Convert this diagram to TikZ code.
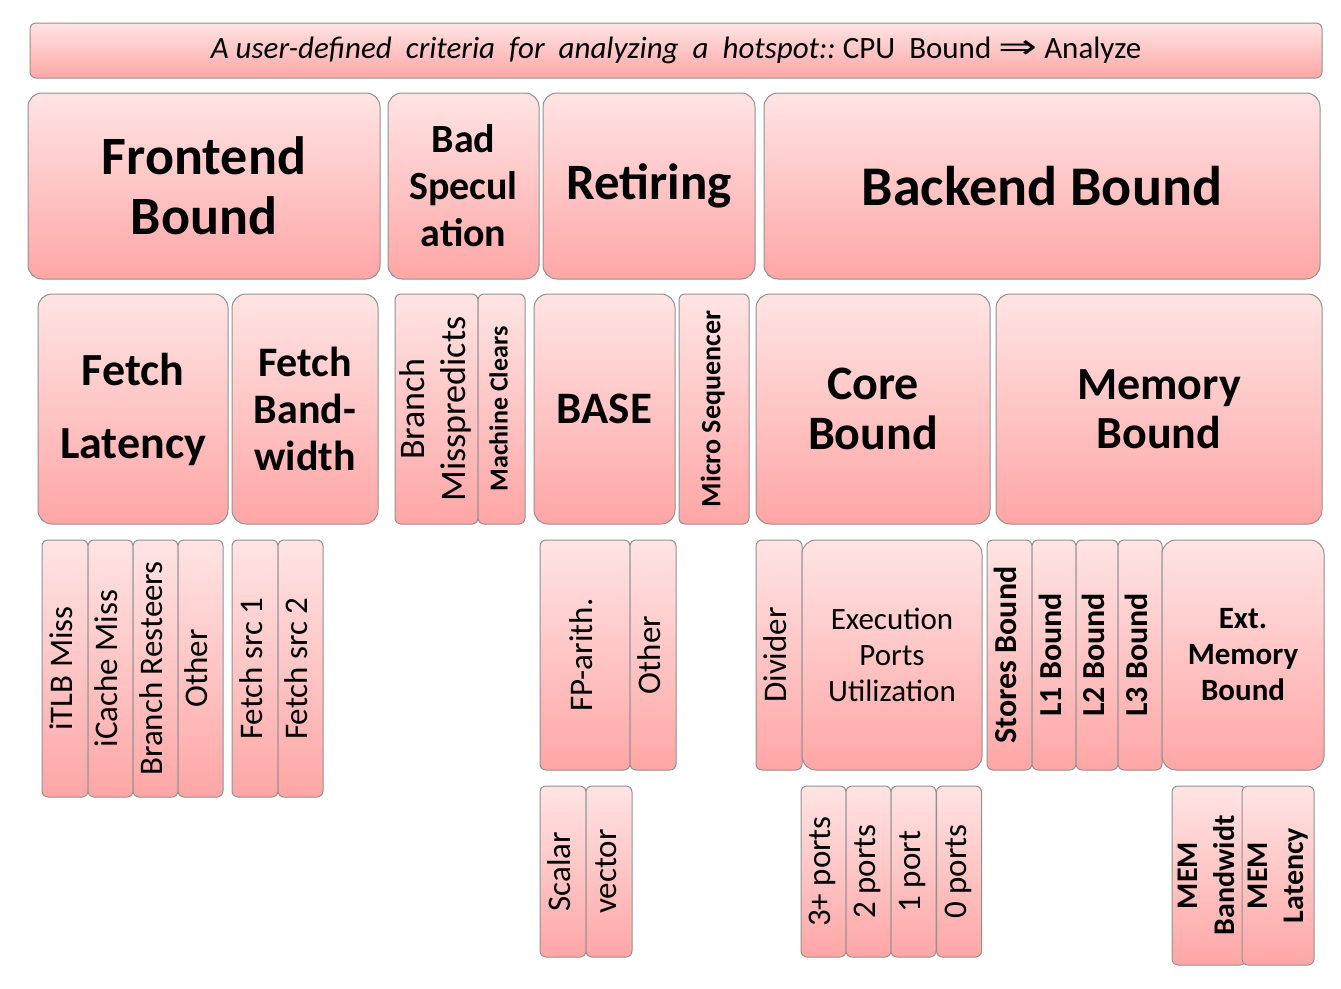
\documentclass[tikz,border=0pt]{standalone}
\usepackage{fontspec}
\setmainfont{Carlito}
\newfontfamily\arrowfont{DejaVu Sans}
\usepackage{xcolor}
\usepackage{tikz}

\definecolor{boxtop}{RGB}{255,228,228}
\definecolor{boxbot}{RGB}{255,166,166}
\definecolor{boxline}{RGB}{145,145,145}

\newcommand{\fsz}[2]{\fontsize{#1}{#2}\selectfont}
\newcommand{\vtext}[1]{\rotatebox{90}{\begin{tabular}{@{}c@{}}#1\end{tabular}}}

\tikzset{
  tbox/.style={draw=boxline, line width=1pt, top color=boxtop, bottom color=boxbot,
               inner sep=0pt, align=center, text=black},
  bigbox/.style={tbox, rounded corners=14pt},
  smallbox/.style={tbox, rounded corners=6pt},
  sz/.style 2 args={minimum width=#1pt, minimum height=#2pt}
}

\begin{document}
\begin{tikzpicture}[x=1pt, y=-1pt]
\useasboundingbox (0,0) rectangle (1341,988);

% Criteria bar
\node[smallbox, sz={1292}{55}, font=\fsz{31}{36}] (crit) at (676,50.5)
  {\textit{A user-defined\ \ criteria\ \ for\ \ analyzing\ \ a\ \ hotspot::}\ CPU\ \ Bound {\arrowfont\scalebox{1.5}[1.1]{⇒}} Analyze};

% Level 1
\node[bigbox, sz={352}{186}, font=\fsz{54}{60}\bfseries] (fe)  at (204,186)   {Frontend\\Bound};
\node[bigbox, sz={151}{186}, font=\fsz{40}{47}\bfseries] (bs)  at (463.5,186) {Bad\\Specul\\ation};
\node[bigbox, sz={212}{186}, font=\fsz{51}{56}\bfseries] (ret) at (649,186)   {Retiring};
\node[bigbox, sz={556}{186}, font=\fsz{56}{60}\bfseries] (be)  at (1042,186)  {Backend Bound};

% Level 2
\node[bigbox, sz={190}{230}, font=\fsz{46}{73}\bfseries] (fl)   at (133,409)   {Fetch\\Latency};
\node[bigbox, sz={146}{230}, font=\fsz{42}{47}\bfseries] (fb)   at (305,409)   {Fetch\\Band-\\width};
\node[smallbox, sz={83}{230}, font=\fsz{36}{41}] (bm)           at (436.5,409) {\vtext{Branch\\Misspredicts}};
\node[smallbox, sz={47}{230}, font=\fsz{26}{30}\bfseries] (mc)  at (501.5,409) {\vtext{Machine Clears}};
\node[bigbox, sz={141}{230}, font=\fsz{45}{52}\bfseries] (base) at (604.5,409) {BASE};
\node[smallbox, sz={70}{230}, font=\fsz{28}{32}\bfseries] (ms)  at (714,409)   {\vtext{Micro Sequencer}};
\node[bigbox, sz={234}{230}, font=\fsz{48}{50}\bfseries] (cb)   at (873,409)   {Core\\Bound};
\node[bigbox, sz={326}{230}, font=\fsz{46}{49}\bfseries] (mb)   at (1159,409)  {Memory\\Bound};

% Level 3
\tikzset{leaf/.style={smallbox, font=\fsz{33}{37}}}
\node[leaf, sz={46}{257}] (itlb)  at (65,668.5)    {\vtext{iTLB Miss}};
\node[leaf, sz={45}{257}] (icm)   at (110.5,668.5) {\vtext{iCache Miss}};
\node[leaf, sz={45}{257}] (bres)  at (155.5,668.5) {\vtext{Branch Resteers}};
\node[leaf, sz={45}{257}] (othfe) at (200.5,668.5) {\vtext{Other}};
\node[leaf, sz={46}{257}] (fsa)   at (255,668.5)   {\vtext{Fetch src 1}};
\node[leaf, sz={45}{257}] (fsb)   at (300.5,668.5) {\vtext{Fetch src 2}};

\node[leaf, sz={90}{230}] (fp)     at (585,655)  {\vtext{FP-arith.}};
\node[leaf, sz={46}{230}] (othret) at (653,655)  {\vtext{Other}};

\node[leaf, sz={46}{230}] (div)  at (779,655) {\vtext{Divider}};
\node[bigbox, sz={180}{230}, font=\fsz{31}{36}] (epu) at (892,655) {Execution\\Ports\\Utilization};
\tikzset{bleaf/.style={smallbox, font=\fsz{32}{36}\bfseries}}
\node[bleaf, sz={45}{230}] (stb)  at (1009.5,655) {\vtext{Stores Bound}};
\node[bleaf, sz={44}{230}] (lone) at (1054,655)   {\vtext{L1 Bound}};
\node[bleaf, sz={42}{230}] (ltwo) at (1097,655)   {\vtext{L2 Bound}};
\node[bleaf, sz={44}{230}] (lthr) at (1140,655)   {\vtext{L3 Bound}};
\node[bigbox, sz={162}{230}, font=\fsz{31}{36}\bfseries] (ext) at (1243,655) {Ext.\\Memory\\Bound};

% Level 4
\node[leaf, sz={46}{171}] (scal) at (563,871.5) {\vtext{Scalar}};
\node[leaf, sz={46}{171}] (vect) at (609,871.5) {\vtext{vector}};

\foreach \name/\x/\lbl in {pthree/823.5/3+ ports, ptwo/868.5/2 ports, pone/913.5/1 port, pzero/959/0 ports}
  \node[leaf, sz={45}{171}] (\name) at (\x,871.5) {\vtext{\lbl}};

\node[smallbox, sz={68}{179}, font=\fsz{30}{37}\bfseries] (mbw)  at (1209,875.5) {\vtext{MEM\\Bandwidt}};
\node[smallbox, sz={70}{179}, font=\fsz{30}{36}\bfseries] (mlat) at (1278,875.5) {\vtext{MEM\\Latency}};
\end{tikzpicture}
\end{document}
